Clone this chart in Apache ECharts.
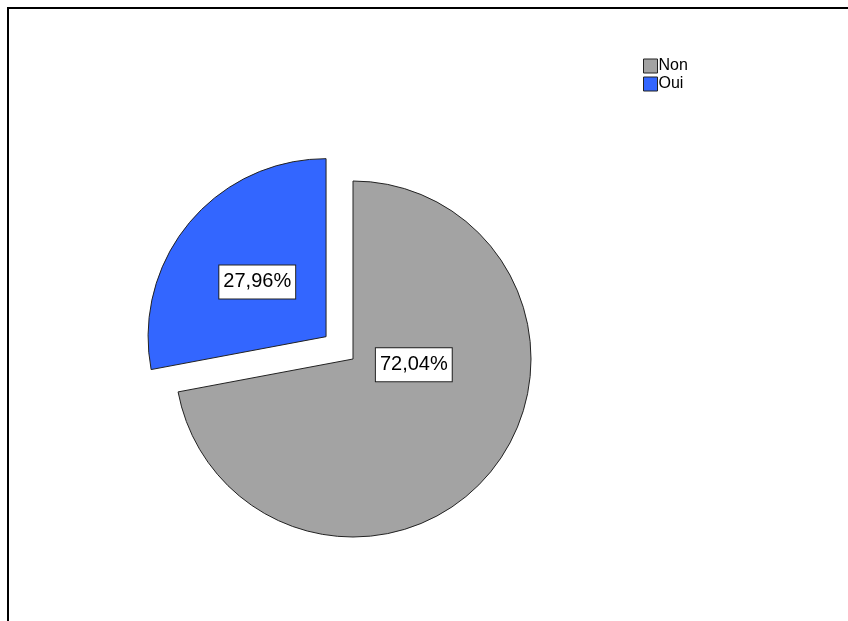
<!DOCTYPE html>
<html>
<head>
<meta charset="utf-8">
<script src="https://cdn.jsdelivr.net/npm/echarts@6/dist/echarts.min.js"></script>
<style>
  html, body { margin: 0; padding: 0; background: #fff; }
  #chart { width: 848px; height: 621px; }
</style>
</head>
<body>
<div id="chart"></div>
<script>
// Answer categories and their shares (percent)
const categories = ['Non', 'Oui'];
const shares = [72.04, 27.96];
const colors = ['#a3a3a3', '#3366ff'];

const chart = echarts.init(document.getElementById('chart'), null, { renderer: 'canvas' });

const pieData = categories.map((name, i) => ({
  name: name,
  value: shares[i],
  selected: name === 'Oui',
  itemStyle: { color: colors[i] }
}));

const font = 'Liberation Sans, Arial, sans-serif';

chart.setOption({
  animation: false,
  backgroundColor: '#ffffff',
  graphic: [
    { type: 'line', shape: { x1: 8, y1: 7, x2: 8, y2: 621 }, style: { stroke: '#000', lineWidth: 2 } },
    { type: 'line', shape: { x1: 7, y1: 8, x2: 848, y2: 8 }, style: { stroke: '#000', lineWidth: 2 } }
  ],
  legend: {
    orient: 'vertical',
    left: 638,
    top: 53,
    itemWidth: 14,
    itemHeight: 14,
    itemGap: 2,
    icon: 'rect',
    selectedMode: false,
    textStyle: { fontFamily: font, fontSize: 16, lineHeight: 14, color: '#000', padding: [0, 0, 0, -4] },
    itemStyle: { borderColor: '#222', borderWidth: 1 },
    data: categories
  },
  series: [{
    type: 'pie',
    center: [353, 359],
    radius: 178,
    startAngle: 90,
    clockwise: true,
    selectedMode: 'single',
    selectedOffset: 35,
    emphasis: { disabled: true },
    itemStyle: { borderColor: '#222', borderWidth: 1 },
    label: {
      show: true,
      position: 'inside',
      formatter: p => p.value.toFixed(2).replace('.', ',') + '%',
      fontFamily: font,
      fontSize: 20,
      color: '#000',
      backgroundColor: '#fff',
      borderColor: '#222',
      borderWidth: 1,
      padding: [7, 4, 6, 4]
    },
    labelLayout: function (params) {
      if (params.dataIndex === 0) {
        return { dx: -10, dy: -53 };
      }
      return { dx: 2, dy: 4 };
    },
    data: pieData
  }]
});
</script>
</body>
</html>
